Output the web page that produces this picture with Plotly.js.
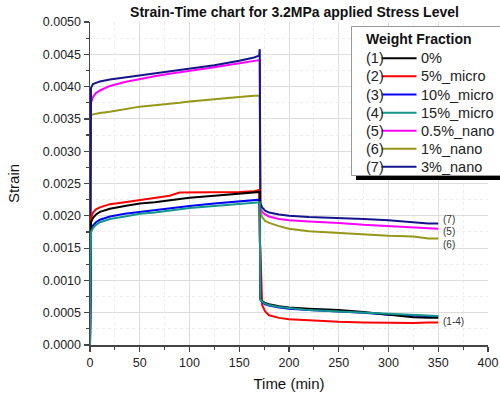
<!DOCTYPE html>
<html><head><meta charset="utf-8">
<script src="https://cdn.plot.ly/plotly-3.0.1.min.js"></script>
<style>html,body{margin:0;padding:0;background:#fff}#chart{width:500px;height:394px}</style>
</head><body><div id="chart"></div>
<script>
// Time (min)
const time = [0, 0.3, 1, 3, 6, 10, 20, 35, 50, 65, 80, 90, 100, 125, 150, 165, 170, 170.6, 171.2, 173, 176, 180, 190, 200, 220, 250, 275, 300, 325, 340, 350];

// Strain per weight fraction
const s0pct    = [0, 0.00180, 0.00190, 0.00197, 0.00202, 0.00206, 0.00211, 0.00215, 0.00219, 0.00221, 0.00224, 0.00226, 0.00228, 0.00231, 0.00234, 0.00236, 0.00237, 0.00237, 0.00072, 0.00068, 0.00065, 0.00063, 0.00060, 0.00058, 0.00056, 0.00054, 0.00051, 0.00047, 0.00043, 0.00042, 0.00042];
const s5micro  = [0, 0.00187, 0.00197, 0.00205, 0.00210, 0.00213, 0.00218, 0.00221, 0.00224, 0.00227, 0.00231, 0.00236, 0.00236, 0.00236, 0.00237, 0.00238, 0.00240, 0.00160, 0.00150, 0.00062, 0.00052, 0.00046, 0.00042, 0.00040, 0.00038, 0.00036, 0.00035, 0.00034, 0.00034, 0.00035, 0.00035];
const s10micro = [0, 0.00170, 0.00178, 0.00185, 0.00190, 0.00194, 0.00199, 0.00203, 0.00206, 0.00208, 0.00211, 0.00213, 0.00215, 0.00219, 0.00222, 0.00224, 0.00225, 0.00225, 0.00070, 0.00066, 0.00063, 0.00061, 0.00058, 0.00056, 0.00054, 0.00052, 0.00050, 0.00047, 0.00045, 0.00044, 0.00044];
const s15micro = [0, 0.00165, 0.00175, 0.00181, 0.00186, 0.00190, 0.00195, 0.00199, 0.00203, 0.00205, 0.00208, 0.00210, 0.00212, 0.00215, 0.00218, 0.00220, 0.00221, 0.00221, 0.00071, 0.00067, 0.00064, 0.00062, 0.00059, 0.00057, 0.00054, 0.00052, 0.00050, 0.00048, 0.00046, 0.00045, 0.00045];
const s05nano  = [0, 0.00310, 0.00375, 0.00384, 0.00390, 0.00394, 0.00401, 0.00407, 0.00412, 0.00416, 0.00420, 0.00422, 0.00425, 0.00430, 0.00436, 0.00440, 0.00441, 0.00441, 0.00212, 0.00206, 0.00202, 0.00199, 0.00195, 0.00193, 0.00191, 0.00189, 0.00186, 0.00184, 0.00182, 0.00181, 0.00180];
const s1nano   = [0, 0.00350, 0.00356, 0.00357, 0.00358, 0.00359, 0.00361, 0.00365, 0.00369, 0.00371, 0.00373, 0.00375, 0.00377, 0.00380, 0.00384, 0.00386, 0.00386, 0.00386, 0.00206, 0.00198, 0.00192, 0.00189, 0.00184, 0.00180, 0.00176, 0.00173, 0.00171, 0.00169, 0.00168, 0.00165, 0.00165];
const s3nano   = [0, 0.00380, 0.00398, 0.00404, 0.00406, 0.00408, 0.00411, 0.00414, 0.00417, 0.00420, 0.00423, 0.00425, 0.00427, 0.00433, 0.00440, 0.00445, 0.00448, 0.00458, 0.00220, 0.00213, 0.00208, 0.00205, 0.00202, 0.00200, 0.00198, 0.00197, 0.00195, 0.00193, 0.00190, 0.00188, 0.00188];

const seriesNames = ['0%', '5%_micro', '10%_micro', '15%_micro', '0.5%_nano', '1%_nano', '3%_nano'];
const seriesTags  = ['(1)', '(2)', '(3)', '(4)', '(5)', '(6)', '(7)'];
const seriesData  = [s0pct, s5micro, s10micro, s15micro, s05nano, s1nano, s3nano];
const seriesColors = ['#000000', '#ff0000', '#0000ff', '#14968c', '#ff00ff', '#969619', '#14148c'];
const drawOrder = [4, 5, 6, 1, 2, 0, 3];

const endLabels = ['(7)', '(5)', '(6)', '(1-4)'];
const endLabelX = [354, 354, 354, 354];
const endLabelY = [0.00195, 0.00175, 0.00155, 0.000361];

const FONT = 'Liberation Sans, Arial, sans-serif';
const W = 500, H = 394;
const M = {l: 90, r: 12, t: 22, b: 49};
const PW = W - M.l - M.r, PH = H - M.t - M.b;
const px2x = px => (px - M.l) / PW;
const px2y = py => (H - M.b - py) / PH;

const traces = drawOrder.map(i => ({
  type: 'scatter', mode: 'lines', x: time, y: seriesData[i], name: seriesNames[i],
  line: {color: seriesColors[i], width: 2}, showlegend: false, hoverinfo: 'skip'
}));

// custom legend box
const shapes = [];
const annotations = [];
shapes.push({type: 'rect', xref: 'paper', yref: 'paper', x0: px2x(356), x1: px2x(503), y0: px2y(180), y1: px2y(175), fillcolor: '#000', line: {width: 0}, layer: 'above'});
shapes.push({type: 'rect', xref: 'paper', yref: 'paper', x0: px2x(351.5), x1: px2x(503), y0: px2y(175.5), y1: px2y(26.5), fillcolor: '#fff', line: {color: '#999', width: 1}, layer: 'above'});
annotations.push({xref: 'paper', yref: 'paper', x: px2x(364), y: px2y(39.5), xanchor: 'left', yanchor: 'middle', showarrow: false,
  text: '<b>Weight Fraction</b>', font: {family: FONT, size: 14, color: '#111'}});
const rowY = [58.3, 76.3, 94.5, 112.7, 130.7, 148.8, 166.8];
seriesNames.forEach((n, i) => {
  const py = rowY[i];
  shapes.push({type: 'line', xref: 'paper', yref: 'paper', x0: px2x(381.5), x1: px2x(416.5), y0: px2y(py), y1: px2y(py), line: {color: seriesColors[i], width: 2}, layer: 'above'});
  annotations.push({xref: 'paper', yref: 'paper', x: px2x(364), y: px2y(py), xanchor: 'left', yanchor: 'middle', showarrow: false,
    text: seriesTags[i], font: {family: FONT, size: 14.5, color: '#222'}});
  annotations.push({xref: 'paper', yref: 'paper', x: px2x(419), y: px2y(py), xanchor: 'left', yanchor: 'middle', showarrow: false,
    text: n, font: {family: FONT, size: 14.5, color: '#222'}});
});
endLabels.forEach((t, i) => {
  annotations.push({x: endLabelX[i], y: endLabelY[i], xref: 'x', yref: 'y', xanchor: 'left', yanchor: 'middle', showarrow: false,
    text: t, font: {family: FONT, size: 10, color: '#333'}, borderpad: 0});
});

const axisCommon = {
  ticks: 'outside', ticklen: 5, tickwidth: 1.2, tickcolor: '#444',
  showline: true, linecolor: '#444', linewidth: 1.5,
  showgrid: true, gridcolor: '#dddddd', gridwidth: 1, zeroline: false,
  tickfont: {family: FONT, size: 12.5, color: '#222'}, automargin: false
};

const layout = {
  width: W, height: H, margin: M,
  paper_bgcolor: '#fff', plot_bgcolor: '#fff',
  title: {text: 'Strain-Time chart for 3.2MPa applied Stress Level', x: 294.5 / W, xref: 'container', xanchor: 'center',
    y: 1 - 12 / H, yref: 'container', yanchor: 'middle', font: {family: FONT, size: 14, weight: 'bold', color: '#111'}},
  xaxis: Object.assign({}, axisCommon, {range: [0, 400], tick0: 0, dtick: 50,
    minor: {dtick: 25, ticks: 'outside', ticklen: 3, tickcolor: '#444', showgrid: true, gridcolor: '#eeeeee', griddash: 'dot'},
    title: {text: 'Time (min)', font: {family: FONT, size: 15, color: '#111'}, standoff: 10}}),
  yaxis: Object.assign({}, axisCommon, {range: [0, 0.005], tick0: 0, dtick: 0.0005, tickformat: '.4f',
    minor: {dtick: 0.00025, ticks: 'outside', ticklen: 3, tickcolor: '#444', showgrid: true, gridcolor: '#eeeeee', griddash: 'dot'},
    title: {text: 'Strain', font: {family: FONT, size: 15, color: '#111'}, standoff: 19}}),
  shapes: shapes, annotations: annotations, showlegend: false
};

Plotly.newPlot('chart', traces, layout, {displayModeBar: false, staticPlot: true});
</script></body></html>
